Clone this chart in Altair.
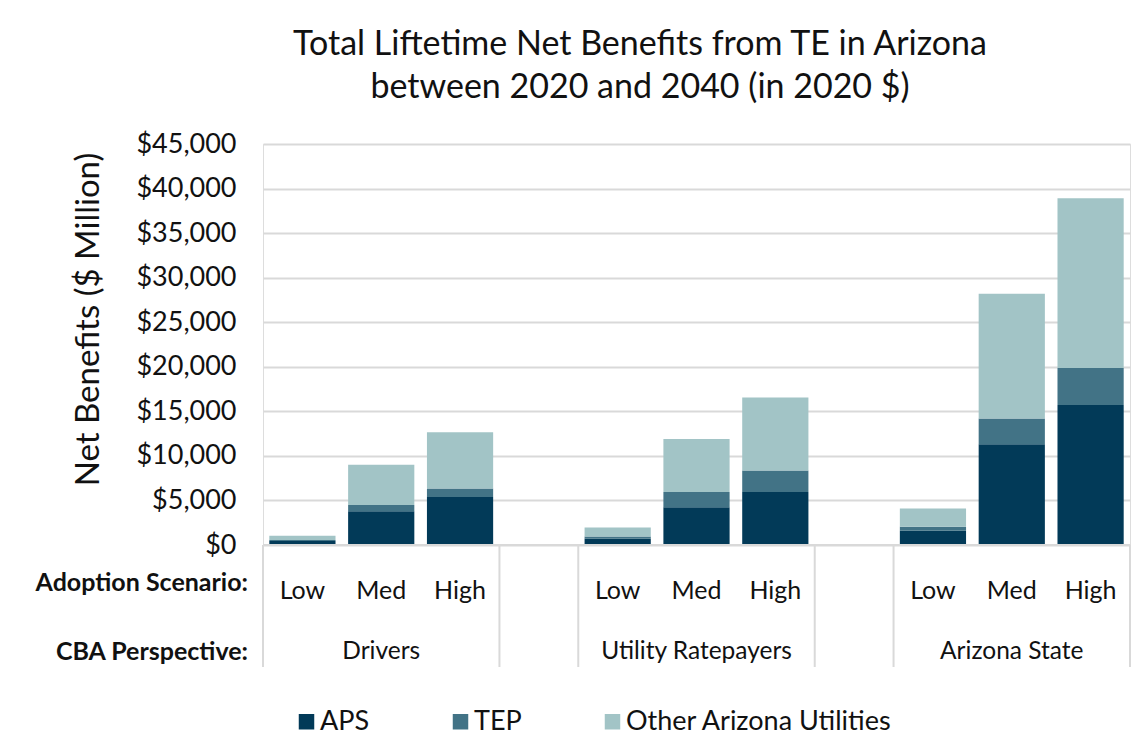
import altair as alt
import pandas as pd

# ---------------- data ----------------
title_lines = ["Total Liftetime Net Benefits from TE in Arizona",
               "between 2020 and 2040 (in 2020 $)"]
perspectives = ["Drivers", "Utility Ratepayers", "Arizona State"]
scenarios = ["Low", "Med", "High"]
utilities = ["APS", "TEP", "Other Arizona Utilities"]
colors = ["#023a58", "#427386", "#a2c4c6"]

# values in $ Million, order: Drivers L/M/H, Ratepayers L/M/H, Arizona State L/M/H
aps = [450, 3800, 5400, 700, 4250, 5950, 1600, 11300, 15700]
tep = [120, 700, 950, 250, 1700, 2400, 450, 2900, 4150]
other = [480, 4500, 6300, 1000, 5950, 8200, 2050, 14000, 19050]

y_ticks = [0, 5000, 10000, 15000, 20000, 25000, 30000, 35000, 40000, 45000]
row_headers = ["Adoption Scenario:", "CBA Perspective:"]
y_title = "Net Benefits ($ Million)"

# ---------------- tables ----------------
series = [aps, tep, other]
rows, scen_rows, persp_rows, sep_rows = [], [], [], []
n_slots = len(perspectives) * (len(scenarios) + 1) - 1
for gi, p in enumerate(perspectives):
    start = gi * (len(scenarios) + 1)
    sep_rows += [{"b": start}, {"b": start + len(scenarios)}]
    persp_rows.append({"label": p, "c": start + len(scenarios) / 2})
    for si, s in enumerate(scenarios):
        k = gi * len(scenarios) + si
        slot = start + si
        scen_rows.append({"label": s, "c": slot + 0.5})
        for ui, u in enumerate(utilities):
            rows.append({"perspective": p, "scenario": s, "utility": u,
                         "order": ui, "slot": slot, "value": series[ui][k]})
df = pd.DataFrame(rows)

xscale = alt.Scale(domain=[0, n_slots], nice=False, zero=False)
yscale = alt.Scale(domain=[0, 45000], nice=False)
FONT = "Lato"
GRID = "#d9d9d9"
TXT = "#111111"

bars = (
    alt.Chart(df)
    .transform_stack(stack="value", groupby=["slot"],
                     sort=[alt.SortField("order", order="ascending")],
                     as_=["y0", "y1"])
    .transform_calculate(xa="datum.slot + 0.08", xb="datum.slot + 0.92")
    .mark_bar()
    .encode(
        x=alt.X("xa:Q", scale=xscale, axis=None),
        x2="xb:Q",
        y=alt.Y("y0:Q", scale=yscale,
                axis=alt.Axis(values=y_ticks, format="$,.0f", labelFontSize=27,
                              labelPadding=27, labelColor=TXT, ticks=False,
                              domain=False, gridColor=GRID, gridWidth=2,
                              title=y_title, titleFontSize=33,
                              titleFontWeight="normal", titleColor=TXT,
                              titleAngle=-90, titleX=-175, titleY=175,
                              titleAlign="center", titleBaseline="middle")),
        y2="y1:Q",
        color=alt.Color("utility:N",
                        scale=alt.Scale(domain=utilities, range=colors),
                        sort=utilities,
                        legend=alt.Legend(orient="none", legendX=30, legendY=564,
                                          direction="horizontal", title=None,
                                          symbolType="square", symbolSize=240,
                                          symbolStrokeWidth=0, labelFontSize=27,
                                          labelColor=TXT, labelOffset=0,
                                          labelLimit=500,
                                          columnPadding=77, padding=0)),
        order=alt.Order("order:Q"),
    )
)

base_line = (
    alt.Chart(pd.DataFrame({"a": [0], "b": [n_slots]}))
    .mark_rule(color=GRID, strokeWidth=2)
    .encode(x=alt.X("a:Q", scale=xscale), x2="b:Q", y=alt.value(401))
)

separators = (
    alt.Chart(pd.DataFrame(sep_rows))
    .mark_rule(color=GRID, strokeWidth=2)
    .encode(x=alt.X("b:Q", scale=xscale), y=alt.value(401), y2=alt.value(523))
)

scen_text = (
    alt.Chart(pd.DataFrame(scen_rows))
    .mark_text(fontSize=25, color=TXT, baseline="middle")
    .encode(x=alt.X("c:Q", scale=xscale), y=alt.value(447), text="label:N")
)

persp_text = (
    alt.Chart(pd.DataFrame(persp_rows))
    .mark_text(fontSize=24.5, color=TXT, baseline="middle")
    .encode(x=alt.X("c:Q", scale=xscale), y=alt.value(508), text="label:N")
)

hdr1 = (
    alt.Chart(pd.DataFrame({"t": [row_headers[0]]}))
    .mark_text(fontSize=25, fontWeight="bold", color=TXT, align="right",
               baseline="middle")
    .encode(x=alt.value(-15), y=alt.value(439), text="t:N")
)
hdr2 = (
    alt.Chart(pd.DataFrame({"t": [row_headers[1]]}))
    .mark_text(fontSize=25, fontWeight="bold", color=TXT, align="right",
               baseline="middle")
    .encode(x=alt.value(-15), y=alt.value(508), text="t:N")
)

t1 = (
    alt.Chart(pd.DataFrame({"t": [title_lines[0]]}))
    .mark_text(fontSize=34, color=TXT, baseline="middle")
    .encode(x=alt.value(377), y=alt.value(-99), text="t:N")
)
t2 = (
    alt.Chart(pd.DataFrame({"t": [title_lines[1]]}))
    .mark_text(fontSize=34, color=TXT, baseline="middle")
    .encode(x=alt.value(377), y=alt.value(-56), text="t:N")
)

chart = (
    alt.layer(bars, base_line, separators, scen_text, persp_text, hdr1, hdr2, t1, t2)
    .properties(width=867, height=401,
                autosize=alt.AutoSizeParams(type="none"),
                padding={"left": 255, "top": 136, "right": 8, "bottom": 190},
                background="white")
    .configure_view(stroke=None)
    .configure(font=FONT)
)

chart.save("out.html", embed_options={"renderer": "svg", "actions": False})
